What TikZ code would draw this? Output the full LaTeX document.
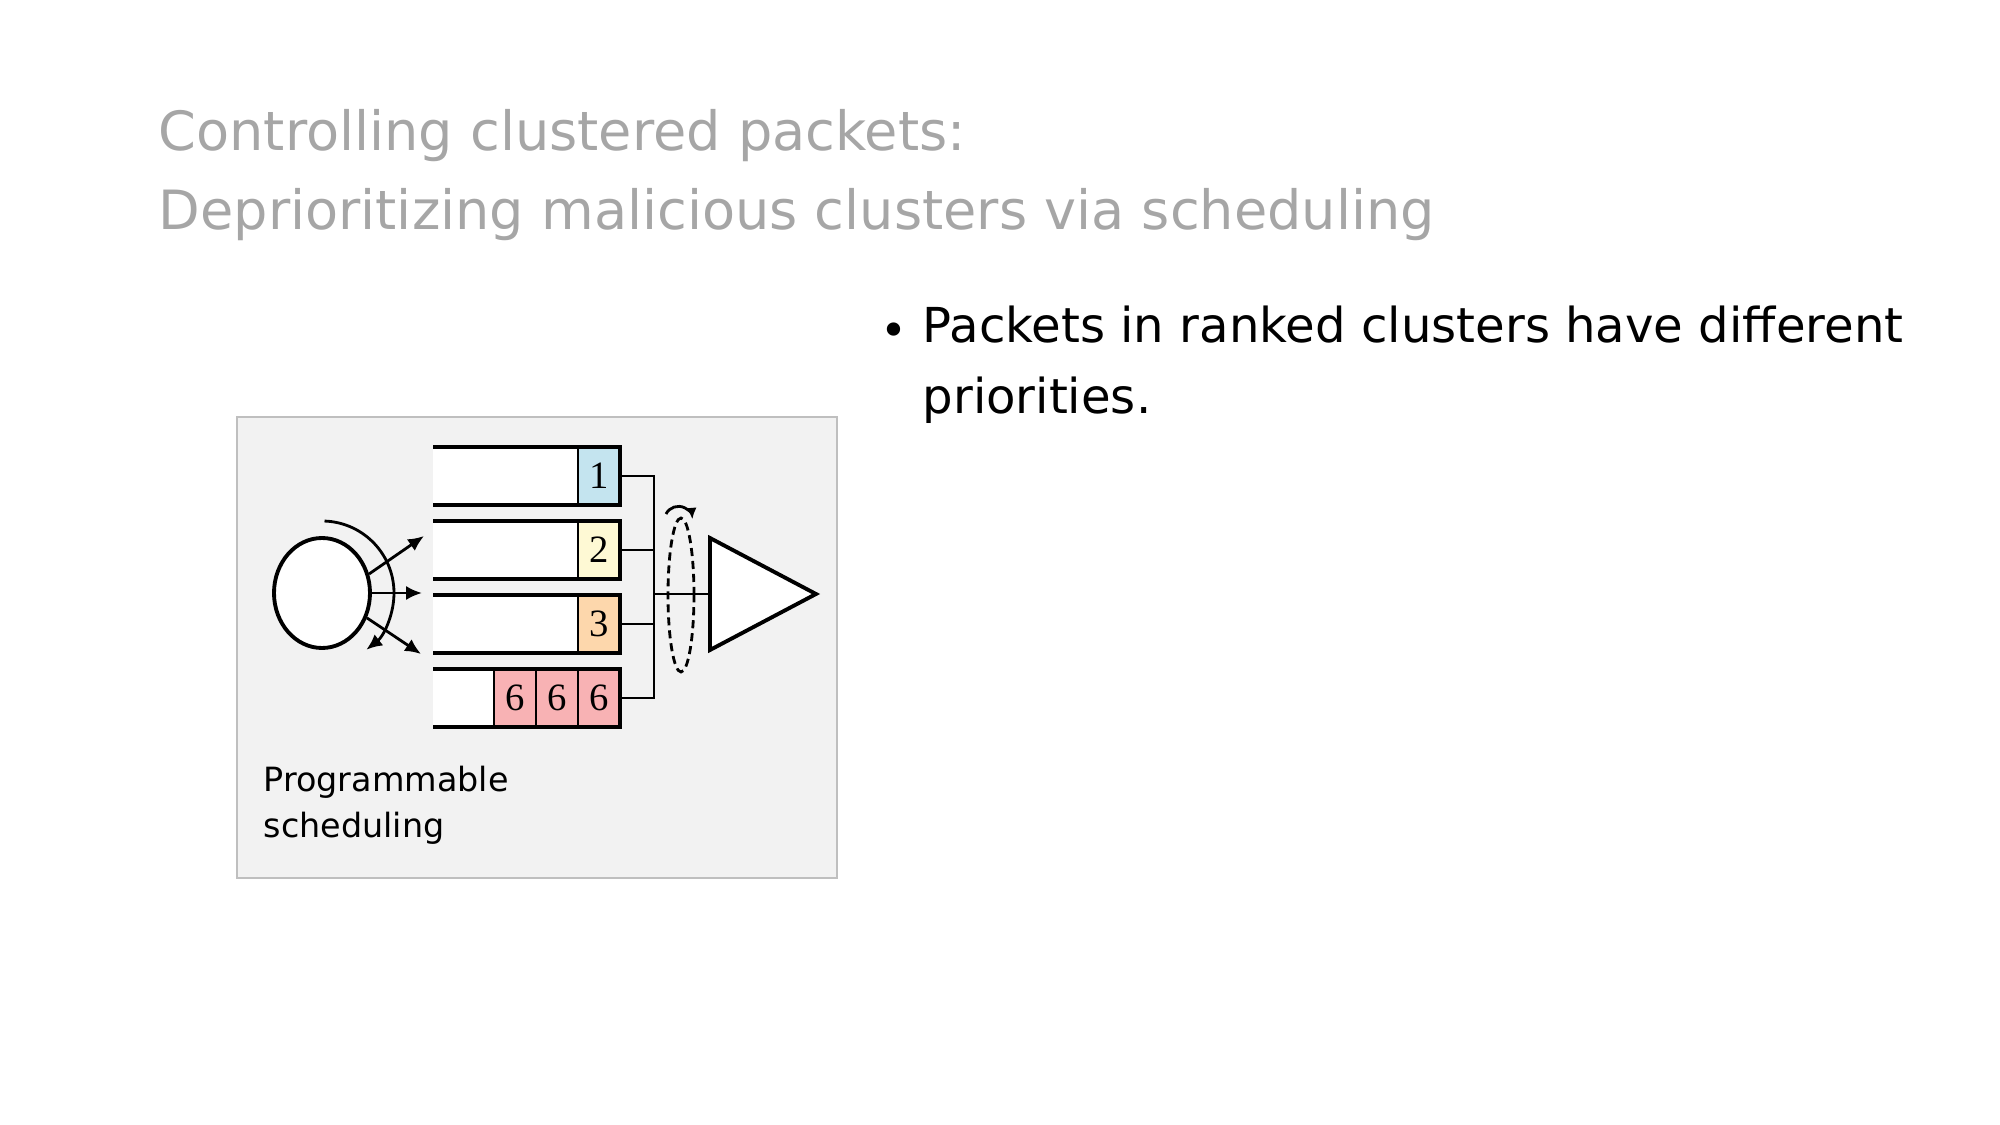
\documentclass[tikz,border=0pt]{standalone}
\usepackage{fontspec}
\setmainfont{DejaVu Sans}
\newfontfamily\numfont{Liberation Serif}
\usetikzlibrary{arrows.meta,positioning,calc,shapes.geometric}
\definecolor{boxc}{HTML}{F2F2F2}
\definecolor{framec}{HTML}{BFBFBF}
\definecolor{titlec}{HTML}{A6A6A6}
\definecolor{rankone}{HTML}{C4E4EF}
\definecolor{ranktwo}{HTML}{FEF9D4}
\definecolor{rankthree}{HTML}{FDD7AC}
\definecolor{ranksix}{HTML}{F8B2B4}
\tikzset{
  queue/.style={fill=white, minimum width=18.7mm, minimum height=5.8mm, inner sep=0pt, outer sep=0pt},
  cell/.style={draw, line width=0.8pt, minimum width=4.2mm, minimum height=5.8mm, inner sep=0pt, outer sep=0pt, font=\numfont\fontsize{11}{13}\selectfont},
  qline/.style={line width=1.1pt},
  arr/.style={-{Latex[length=4.5pt,width=4pt]}, line width=0.8pt},
  link/.style={line width=0.55pt},
}

\begin{document}
\begin{tikzpicture}[x=0.1mm, y=-0.1mm]
  \useasboundingbox (0,0) rectangle (2000,1125);
  % title and bullet
  \node[anchor=north west, inner sep=0pt, align=left, text=titlec, font=\fontsize{15.4}{22.4}\selectfont] (title) at (158,109)
    {Controlling clustered packets:\\Deprioritizing malicious clusters via scheduling};
  \node[inner sep=0pt, font=\fontsize{13}{16}\selectfont] (dot) at (894,335) {\textbullet};
  \node[anchor=north west, inner sep=0pt, align=left, font=\fontsize{13.7}{20.2}\selectfont] (point) at (922,305.4)
    {Packets in ranked clusters have different\\priorities.};
  % scheduler panel
  \node[draw=framec, fill=boxc, line width=0.45pt, minimum width=60mm, minimum height=46.1mm, inner sep=0pt] (panel) at (537,647.5) {};
  \node[draw, ellipse, fill=white, line width=1.1pt, minimum width=9.6mm, minimum height=11mm, inner sep=0pt] (port) at (322,593) {};
  \draw[arr] ($(port.center)+(88:7.2mm)$) arc[start angle=88, end angle=-52, radius=7.2mm];
  \coordinate (in1) at (424,536);
  \coordinate (in2) at (422,593);
  \coordinate (in3) at (421,654);
  \draw[arr] (port.22) -- (in1);
  \draw[arr] (port.0) -- (in2);
  \draw[arr] (port.-29) -- (in3);
  % queues
  \foreach \i/\y in {1/476,2/550,3/624,4/698}
    \node[queue] (q\i) at (526.5,\y) {};
  \node[cell, fill=rankone, anchor=east] (c1) at (q1.east) {1};
  \node[cell, fill=ranktwo, anchor=east] (c2) at (q2.east) {2};
  \node[cell, fill=rankthree, anchor=east] (c3) at (q3.east) {3};
  \node[cell, fill=ranksix, anchor=east] (c4a) at (q4.east) {6};
  \node[cell, fill=ranksix, left=0pt of c4a] (c4b) {6};
  \node[cell, fill=ranksix, left=0pt of c4b] (c4c) {6};
  \foreach \i in {1,...,4}
    \draw[qline] (q\i.north west) -- (q\i.north east) -- (q\i.south east) -- (q\i.south west);
  % round robin to the link
  \coordinate (bus) at (654,594);
  \coordinate (tri) at (710,594);
  \foreach \i in {1,...,4}
    \draw[link] (q\i.east) -| (bus);
  \draw[link] (bus) -- (tri);
  \draw[qline, fill=white] (tri) -- ++(0,-56) -- ++(106,56) -- ++(-106,56) -- cycle;
  \draw[line width=0.8pt, dash pattern=on 2.3pt off 1.4pt] (681,595) ellipse [x radius=1.3mm, y radius=7.7mm];
  \coordinate (rr) at (666,514);
  \draw[-{Latex[length=3.2pt,width=3pt]}, line width=0.8pt] (rr) arc[start angle=153, end angle=5, radius=1.4mm];
  \node[anchor=north west, inner sep=0pt, align=left, font=\fontsize{9.5}{13.1}\selectfont] (lbl) at (263,765)
    {Programmable\\scheduling};
\end{tikzpicture}
\end{document}
